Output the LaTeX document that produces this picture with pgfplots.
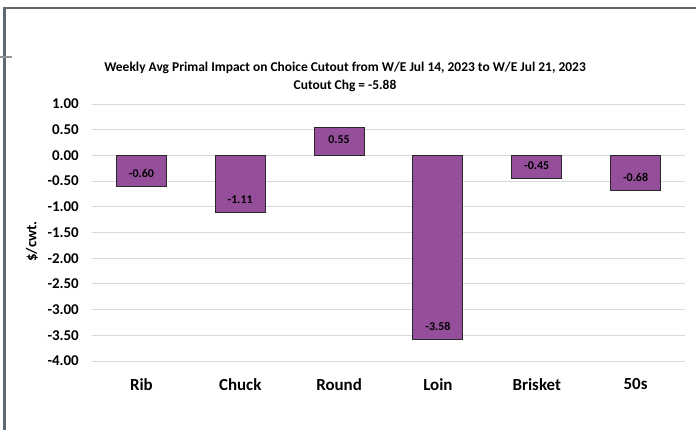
\documentclass[border=0pt]{standalone}
\usepackage{pgfplots}
\pgfplotsset{compat=1.18}
\usepackage{fontspec}
\setmainfont{Carlito}

\definecolor{barpurple}{RGB}{148,78,154}
\definecolor{baredge}{RGB}{40,40,40}
\definecolor{gridgray}{RGB}{217,217,217}
\definecolor{framegray}{RGB}{93,104,112}

\begin{document}
\begin{tikzpicture}
  % page area and frame
  \fill[white] (0,0) rectangle (696bp,430bp);
  \useasboundingbox (0,0) rectangle (696bp,430bp);
  \draw[framegray, line width=2.5bp] (4.5bp,0bp) -- (4.5bp,422bp) -- (696bp,422bp);
  \draw[framegray!70, line width=1.2bp] (0bp,373bp) -- (12bp,373bp);

  % titles
  \node[font=\fontsize{13.5}{15}\selectfont\bfseries] at (345bp,362bp)
    {Weekly Avg Primal Impact on Choice Cutout from W/E Jul 14, 2023 to W/E Jul 21, 2023};
  \node[font=\fontsize{13.5}{15}\selectfont\bfseries] at (345bp,344bp) {Cutout Chg = -5.88};
  \node[font=\fontsize{15}{17}\selectfont\bfseries, rotate=90] at (32bp,188.5bp) {\$/cwt.};

  \begin{axis}[
    at={(92bp,69bp)}, anchor=south west,
    scale only axis, width=593bp, height=257bp,
    xmin=-0.5, xmax=5.5, ymin=-4, ymax=1,
    ytick={-4,-3.5,-3,-2.5,-2,-1.5,-1,-0.5,0,0.5,1},
    xtick={0,1,2,3,4,5},
    xticklabels={Rib,Chuck,Round,Loin,Brisket,50s},
    axis line style={draw=none},
    major tick style={draw=none},
    ymajorgrids, grid style={gridgray, line width=1bp},
    /pgf/number format/.cd, fixed, fixed zerofill, precision=2, assume math mode=true,
    /pgfplots/.cd,
    yticklabel style={font=\fontsize{15}{15}\selectfont\bfseries, anchor=east, inner sep=0pt, xshift=-13bp},
    xticklabel style={font=\fontsize{17}{17}\selectfont\bfseries, anchor=center, inner sep=0pt, yshift=-19bp},
    ybar, bar width=0.506,
    nodes near coords={\pgfmathprintnumber[fixed,fixed zerofill,precision=2,assume math mode=true]{\pgfplotspointmeta}},
    visualization depends on={rawy \as \rawy},
    nodes near coords style={font=\fontsize{12}{12}\selectfont\bfseries, anchor=center, inner sep=0pt,
      yshift={26*(\rawy<0)-13}},
  ]
    \addplot[fill=barpurple, draw=baredge, line width=0.9bp] coordinates {
      (0,-0.60) (1,-1.11) (2,0.55) (3,-3.58) (4,-0.45) (5,-0.68)
    };
  \end{axis}
\end{tikzpicture}
\end{document}
